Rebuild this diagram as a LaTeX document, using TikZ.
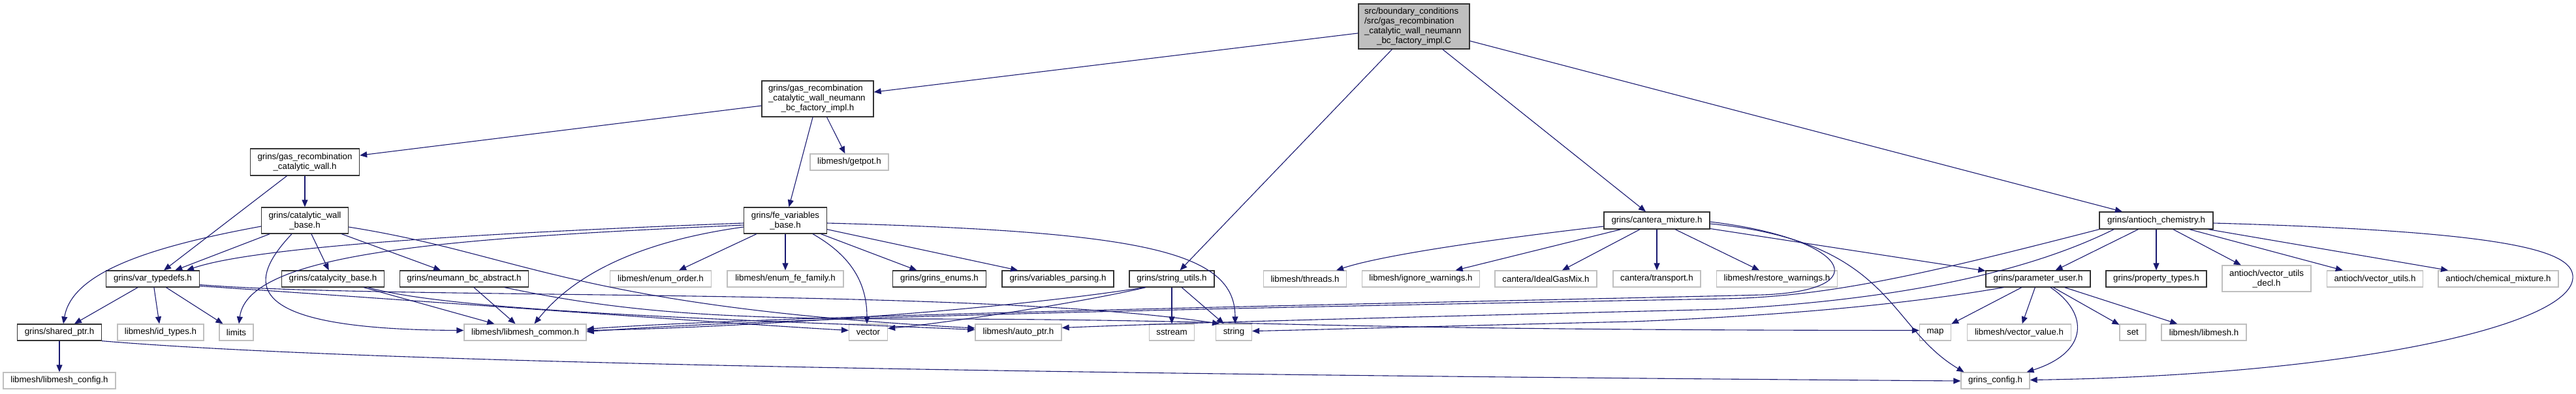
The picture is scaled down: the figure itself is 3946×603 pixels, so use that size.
\documentclass[tikz,border=0pt]{standalone}
\usepackage{fontspec}
\setmainfont{Liberation Sans}
\usetikzlibrary{arrows.meta}
\definecolor{eb}{HTML}{191970}
\definecolor{gb}{HTML}{BFBFBF}
\begin{document}
\begin{tikzpicture}[x=1pt,y=-1pt,
  every node/.style={font=\fontsize{13.3}{15}\selectfont, inner sep=0pt, rectangle, align=center, minimum height=25pt},
  nb/.style={draw=black!80, line width=1.3pt},
  ng/.style={draw=gb, line width=1.3pt},
  e/.style={draw=eb, line width=1.1pt, -{Triangle[length=11pt,width=9pt]}}]
\useasboundingbox (0,0) rectangle (3946,603);
% nodes
\node[nb, fill=gb, minimum width=170pt, minimum height=69pt, text width=152pt, align=left] (root) at (2166,40.5) {src/boundary\_conditions\\/src/gas\_recombination\\\_catalytic\_wall\_neumann\\\makebox[152pt][c]{\_bc\_factory\_impl.C}};
\node[nb, minimum width=171pt, minimum height=55pt, text width=151pt, align=left] (fac) at (1252.5,151.5) {grins/gas\_recombination\\\_catalytic\_wall\_neumann\\\makebox[151pt][c]{\_bc\_factory\_impl.h}};
\node[ng, minimum width=120pt] (gp) at (1301,248.5) {libmesh/getpot.h};
\node[nb, minimum width=167pt, minimum height=41pt] (gcw) at (467,248.5) {grins/gas\_recombination\\\_catalytic\_wall.h};
\node[nb, minimum width=133pt, minimum height=40pt] (cwb) at (467,338) {grins/catalytic\_wall\\\_base.h};
\node[nb, minimum width=143pt] (vt) at (234,427.5) {grins/var\_typedefs.h};
\node[nb, minimum width=157pt] (ct) at (510,427.5) {grins/catalycity\_base.h};
\node[nb, minimum width=197pt] (nm) at (711,427.5) {grins/neumann\_bc\_abstract.h};
\node[nb, minimum width=129pt] (sp) at (91,509.5) {grins/shared\_ptr.h};
\node[ng, minimum width=132pt] (id) at (246,509.5) {libmesh/id\_types.h};
\node[ng, minimum width=52pt] (li) at (362,509.5) {limits};
\node[ng, minimum width=172pt] (lcfg) at (91,583.5) {libmesh/libmesh\_config.h};
\node[nb, minimum width=127pt, minimum height=40pt] (fe) at (1203,338) {grins/fe\_variables\\\_base.h};
\node[ng, minimum width=155pt] (eo) at (1012,427.5) {libmesh/enum\_order.h};
\node[ng, minimum width=178pt] (ef) at (1203,427.5) {libmesh/enum\_fe\_family.h};
\node[ng, minimum width=187pt] (lc) at (804.5,509.5) {libmesh/libmesh\_common.h};
\node[ng, minimum width=59pt] (vec) at (1330,509.5) {vector};
\node[nb, minimum width=143pt] (ge) at (1439,427.5) {grins/grins\_enums.h};
\node[nb, minimum width=171pt] (vp) at (1620.5,427.5) {grins/variables\_parsing.h};
\node[nb, minimum width=130pt] (su) at (1795,427.5) {grins/string\_utils.h};
\node[ng, minimum width=132pt] (ap) at (1560,509.5) {libmesh/auto\_ptr.h};
\node[ng, minimum width=69pt] (ss) at (1795,509.5) {sstream};
\node[ng, minimum width=55pt] (st) at (1890,509.5) {string};
\node[ng, minimum width=127pt] (th) at (1999,427.5) {libmesh/threads.h};
\node[ng, minimum width=180pt] (iw) at (2176.5,427.5) {libmesh/ignore\_warnings.h};
\node[ng, minimum width=156pt] (ig) at (2368,427.5) {cantera/IdealGasMix.h};
\node[ng, minimum width=134pt] (tr) at (2538,427.5) {cantera/transport.h};
\node[ng, minimum width=185pt] (rw) at (2722,427.5) {libmesh/restore\_warnings.h};
\node[nb, minimum width=162pt, minimum height=26pt] (cm) at (2538,338) {grins/cantera\_mixture.h};
\node[nb, minimum width=174pt, minimum height=26pt] (ac) at (3303,338) {grins/antioch\_chemistry.h};
\node[nb, minimum width=160pt] (pu) at (3122,427.5) {grins/parameter\_user.h};
\node[nb, minimum width=154pt] (pt) at (3303,427.5) {grins/property\_types.h};
\node[ng, minimum width=136pt, minimum height=40pt] (vud) at (3472,427) {antioch/vector\_utils\\\_decl.h};
\node[ng, minimum width=147pt] (vu) at (3638,427.5) {antioch/vector\_utils.h};
\node[ng, minimum width=184pt] (chm) at (3827,427.5) {antioch/chemical\_mixture.h};
\node[ng, minimum width=48pt] (map) at (2964.5,509.5) {map};
\node[ng, minimum width=159pt] (vv) at (3093,509.5) {libmesh/vector\_value.h};
\node[ng, minimum width=40pt] (set) at (3267,509.5) {set};
\node[ng, minimum width=130pt] (lib) at (3376,509.5) {libmesh/libmesh.h};
\node[ng, minimum width=105pt] (gc) at (3056.5,583.5) {grins\_config.h};
% straight edges
\foreach \a/\b in {root/fac, root/su, root/cm, root/ac, fac/gcw, fac/fe, fac/gp, gcw/cwb, gcw/vt, cwb/vt, cwb/ct, cwb/nm, vt/sp, vt/id, vt/li, sp/lcfg, ct/lc, nm/lc, fe/eo, fe/ef, fe/ge, fe/vp, su/ss, su/st, cm/iw, cm/ig, cm/tr, cm/rw, cm/pu, ac/pu, ac/pt, ac/vud, ac/vu, ac/chm, pu/map, pu/vv, pu/set, pu/lib}
  \draw[e] (\a) -- (\b);
% curved edges
\draw[e] ([yshift=-9pt]cwb.west) .. controls (220,380) and (110,420) .. ([xshift=6pt]sp.north);
\draw[e] ([xshift=-20pt]cwb.south) .. controls (370,440) and (380,505) .. ([yshift=3pt]lc.west);
\draw[e] ([yshift=-10pt]cwb.east) .. controls (800,390) and (880,470) .. ([yshift=6.5pt]ap.west);
\draw[e] ([yshift=-9pt]vt.east) .. controls (600,460) and (1500,440) .. ([xshift=-22pt]st.north);
\draw[e] ([yshift=-11pt]vt.east) .. controls (700,465) and (1100,495) .. ([yshift=3pt]vec.west);
\draw[e] ([xshift=54pt]ct.south) .. controls (700,480) and (1200,492) .. ([yshift=4pt]ap.west);
\draw[e] ([xshift=62pt]nm.south) .. controls (950,478) and (1100,489) .. (1400,489) .. controls (1930,489) and (1950,506) .. ([yshift=3pt]map.west);
\draw[e] ([yshift=-4pt]fe.west) .. controls (800,355) and (400,375) .. ([xshift=52pt]vt.north);
\draw[e] ([yshift=-7pt]fe.west) .. controls (700,365) and (380,385) .. ([xshift=4pt]li.north);
\draw[e] ([yshift=-10pt]fe.west) .. controls (980,370) and (880,420) .. ([xshift=14pt]lc.north);
\draw[e] ([xshift=42pt]fe.south) .. controls (1300,390) and (1328,430) .. ([xshift=-2pt]vec.north);
\draw[e] ([yshift=-4pt]fe.east) .. controls (1750,355) and (1892,385) .. ([xshift=2pt]st.north);
\draw[e] ([xshift=-42pt]su.south) .. controls (1500,480) and (1100,503) .. ([yshift=3pt]lc.east);
\draw[e] ([xshift=-40pt]su.south) .. controls (1650,465) and (1450,495) .. ([yshift=6pt]vec.east);
\draw[e] ([yshift=-9pt]cm.west) .. controls (2300,365) and (2120,390) .. ([xshift=48pt]th.north);
\draw[e] ([yshift=-5pt]cm.east) .. controls (2900,370) and (2890,500) .. ([xshift=-48pt]gc.north);
\draw[e] ([yshift=-2pt]cm.east) .. controls (2830,365) and (2880,445) .. (2700,452) .. controls (2300,462) and (1200,482) .. ([yshift=5pt]lc.east);
\draw[e] (ac.south west) .. controls (2950,420) and (2800,455) .. (2640,458) .. controls (2000,470) and (1200,485) .. ([yshift=1pt]lc.east);
\draw[e] ([xshift=-65pt]ac.south) .. controls (3100,420) and (2900,460) .. (2640,474) .. controls (2200,485) and (1800,495) .. ([yshift=7pt]ap.east);
\draw[e] ([yshift=-4pt]ac.east) .. controls (3850,355) and (3945,385) .. (3941,427) .. controls (3935,500) and (3600,575) .. ([yshift=1pt]gc.east);
\draw[e] ([xshift=-53pt]pu.south) .. controls (2900,470) and (2700,485) .. (2500,493) .. controls (2200,500) and (2000,506) .. ([yshift=2pt]st.east);
\draw[e] ([xshift=19pt]pu.south) .. controls (3200,480) and (3200,540) .. ([xshift=48pt]gc.north);
\draw[e] (sp.south east) .. controls (600,560) and (1800,575) .. ([yshift=-0.5pt]gc.west);
\end{tikzpicture}
\end{document}
